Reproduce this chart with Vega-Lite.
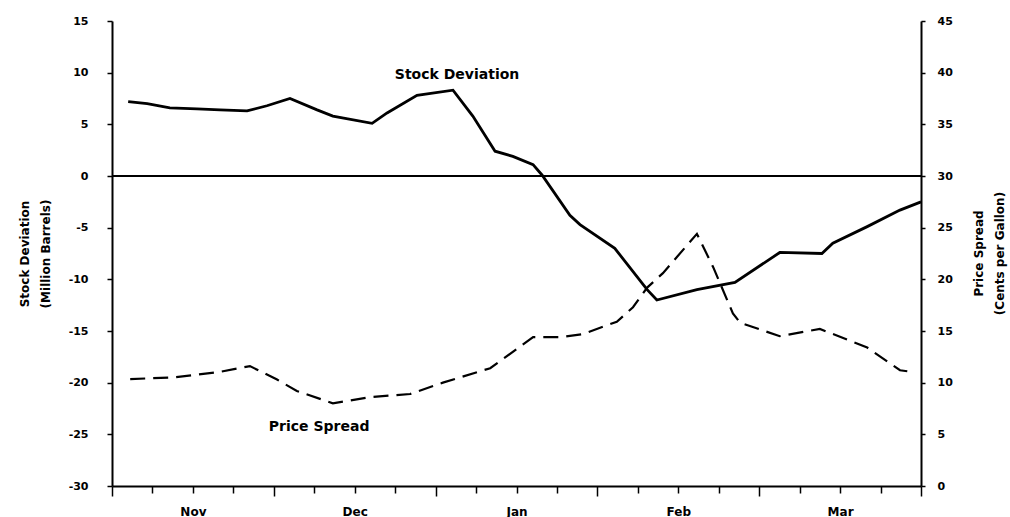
{
  "$schema": "https://vega.github.io/schema/vega-lite/v6.json",
  "width": 809,
  "height": 465,
  "autosize": {"type": "none"},
  "padding": {"left": 112, "top": 21, "right": 89, "bottom": 31},
  "background": "white",
  "config": {
    "view": {"stroke": null},
    "font": "DejaVu Sans",
    "axis": {
      "domainColor": "black",
      "domainWidth": 2,
      "tickColor": "black",
      "tickWidth": 1.5,
      "labelColor": "black",
      "labelFont": "DejaVu Sans",
      "labelFontWeight": "bold",
      "labelFontSize": 11,
      "titleFont": "DejaVu Sans",
      "titleFontWeight": "bold",
      "titleFontSize": 12,
      "titleColor": "black",
      "grid": false
    }
  },
  "datasets": {
    "stock": [
      {"week": 0.40, "deviation": 7.2},
      {"week": 0.87, "deviation": 7.0},
      {"week": 1.43, "deviation": 6.6},
      {"week": 2.10, "deviation": 6.5},
      {"week": 2.67, "deviation": 6.4},
      {"week": 3.34, "deviation": 6.3},
      {"week": 3.83, "deviation": 6.8},
      {"week": 4.40, "deviation": 7.5},
      {"week": 5.07, "deviation": 6.4},
      {"week": 5.46, "deviation": 5.8},
      {"week": 6.43, "deviation": 5.1},
      {"week": 6.80, "deviation": 6.1},
      {"week": 7.54, "deviation": 7.8},
      {"week": 8.43, "deviation": 8.3},
      {"week": 8.92, "deviation": 5.8},
      {"week": 9.47, "deviation": 2.4},
      {"week": 9.91, "deviation": 1.9},
      {"week": 10.41, "deviation": 1.1},
      {"week": 10.63, "deviation": 0.1},
      {"week": 11.32, "deviation": -3.8},
      {"week": 11.57, "deviation": -4.7},
      {"week": 12.43, "deviation": -7.0},
      {"week": 13.23, "deviation": -11.0},
      {"week": 13.47, "deviation": -12.0},
      {"week": 14.46, "deviation": -11.0},
      {"week": 15.40, "deviation": -10.3},
      {"week": 16.51, "deviation": -7.4},
      {"week": 17.55, "deviation": -7.5},
      {"week": 17.82, "deviation": -6.5},
      {"week": 18.67, "deviation": -4.9},
      {"week": 19.48, "deviation": -3.3},
      {"week": 20.0, "deviation": -2.5}
    ],
    "price": [
      {"week": 0.45, "spread": 10.35},
      {"week": 1.51, "spread": 10.5},
      {"week": 2.60, "spread": 11.0},
      {"week": 3.41, "spread": 11.6},
      {"week": 4.08, "spread": 10.3},
      {"week": 4.57, "spread": 9.2},
      {"week": 5.46, "spread": 8.0},
      {"week": 6.38, "spread": 8.6},
      {"week": 7.37, "spread": 8.9},
      {"week": 8.18, "spread": 10.0},
      {"week": 9.35, "spread": 11.4},
      {"week": 9.67, "spread": 12.3},
      {"week": 10.41, "spread": 14.4},
      {"week": 11.08, "spread": 14.4},
      {"week": 11.64, "spread": 14.7},
      {"week": 12.48, "spread": 15.9},
      {"week": 12.88, "spread": 17.3},
      {"week": 13.23, "spread": 19.2},
      {"week": 13.62, "spread": 20.6},
      {"week": 14.46, "spread": 24.4},
      {"week": 14.86, "spread": 21.2},
      {"week": 15.35, "spread": 16.7},
      {"week": 15.53, "spread": 15.8},
      {"week": 16.51, "spread": 14.5},
      {"week": 17.50, "spread": 15.2},
      {"week": 18.67, "spread": 13.4},
      {"week": 19.48, "spread": 11.2},
      {"week": 19.85, "spread": 11.0}
    ]
  },
  "layer": [
    {
      "layer": [
        {
          "data": {"name": "stock"},
          "mark": {"type": "line", "color": "black", "strokeWidth": 2.8},
          "encoding": {
            "x": {
              "field": "week",
              "type": "quantitative",
              "scale": {"domain": [0, 20], "nice": false, "zero": false},
              "axis": {
                "title": null,
                "values": [0,1,2,3,4,5,6,7,8,9,10,11,12,13,14,15,16,17,18,19,20],
                "labelExpr": "datum.value==2?'Nov':datum.value==6?'Dec':datum.value==10?'Jan':datum.value==14?'Feb':datum.value==18?'Mar':''",
                "tickSize": {"condition": {"test": "datum.value % 4 == 0", "value": 10}, "value": 7},
                "labelPadding": 13,
                "labelFontSize": 12,
                "labelOverlap": false,
                "labelFlush": false
              }
            },
            "y": {
              "field": "deviation",
              "type": "quantitative",
              "scale": {"domain": [-30, 15], "nice": false, "zero": false},
              "axis": {
                "values": [-30,-25,-20,-15,-10,-5,0,5,10,15],
                "labelExpr": "format(datum.value, 'd') == '' ? '' : (datum.value < 0 ? '-' + abs(datum.value) : '' + datum.value)",
                "tickSize": 5,
                "labelPadding": 19,
                "title": ["Stock Deviation", "(Million Barrels)"],
                "titleLineHeight": 21,
                "titlePadding": 16
              }
            }
          }
        },
        {
          "data": {"values": [{"deviation": 0}]},
          "mark": {"type": "rule", "color": "black", "strokeWidth": 2},
          "encoding": {"y": {"field": "deviation", "type": "quantitative"}}
        },
        {
          "data": {"values": [{"week": 8.53, "deviation": 9.8, "label": "Stock Deviation"}]},
          "mark": {"type": "text", "font": "DejaVu Sans", "fontWeight": "bold", "fontSize": 14, "color": "black", "align": "center", "baseline": "middle"},
          "encoding": {
            "x": {"field": "week", "type": "quantitative"},
            "y": {"field": "deviation", "type": "quantitative"},
            "text": {"field": "label"}
          }
        }
      ]
    },
    {
      "layer": [
        {
          "data": {"name": "price"},
          "mark": {"type": "line", "color": "black", "strokeWidth": 2.2, "strokeDash": [15, 8]},
          "encoding": {
            "x": {"field": "week", "type": "quantitative"},
            "y": {
              "field": "spread",
              "type": "quantitative",
              "scale": {"domain": [0, 45], "nice": false},
              "axis": {
                "orient": "right",
                "values": [0,5,10,15,20,25,30,35,40,45],
                "tickSize": 4,
                "labelPadding": 12,
                "title": ["Price Spread", "(Cents per Gallon)"],
                "titleAngle": 270,
                "titleBaseline": "top",
                "titleAlign": "center",
                "titleLineHeight": 21,
                "titleX": 52,
                "titleY": 232
              }
            }
          }
        },
        {
          "data": {"values": [{"week": 5.12, "spread": 5.7, "label": "Price Spread"}]},
          "mark": {"type": "text", "font": "DejaVu Sans", "fontWeight": "bold", "fontSize": 14, "color": "black", "align": "center", "baseline": "middle"},
          "encoding": {
            "x": {"field": "week", "type": "quantitative"},
            "y": {"field": "spread", "type": "quantitative"},
            "text": {"field": "label"}
          }
        }
      ]
    }
  ],
  "resolve": {"scale": {"y": "independent"}}
}
